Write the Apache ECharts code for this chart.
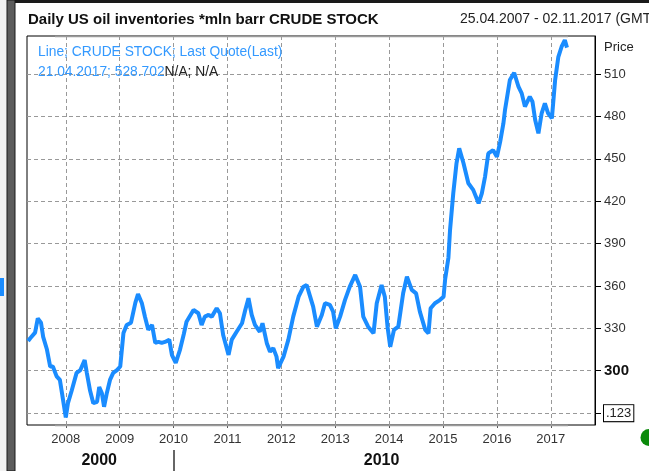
<!DOCTYPE html>
<html>
<head>
<meta charset="utf-8">
<title>Daily US oil inventories</title>
<script src="https://cdn.jsdelivr.net/npm/echarts@6.0.0/dist/echarts.min.js"></script>
<style>
  html, body { margin: 0; padding: 0; background: #fff; }
  #chart { width: 649px; height: 471px; }
</style>
</head>
<body>
<div id="chart"></div>
<script>
// weekly points, time as decimal year
const years = [
  2007.30, 2007.34, 2007.43, 2007.48, 2007.54, 2007.58, 2007.65, 2007.71, 2007.76, 2007.83,
  2007.89, 2007.93, 2008.00, 2008.04, 2008.11, 2008.20, 2008.27, 2008.35, 2008.39, 2008.45,
  2008.51, 2008.58, 2008.62, 2008.67, 2008.71, 2008.76, 2008.82, 2008.88, 2008.95, 2009.01,
  2009.07, 2009.13, 2009.21, 2009.29, 2009.34, 2009.41, 2009.47, 2009.53, 2009.60, 2009.66,
  2009.72, 2009.78, 2009.84, 2009.92, 2009.97, 2010.04, 2010.12, 2010.19, 2010.24, 2010.37,
  2010.46, 2010.52, 2010.58, 2010.65, 2010.71, 2010.80, 2010.86, 2010.92, 2011.02, 2011.08,
  2011.17, 2011.27, 2011.33, 2011.39, 2011.45, 2011.51, 2011.60, 2011.65, 2011.73, 2011.79,
  2011.85, 2011.91, 2011.94, 2012.04, 2012.13, 2012.22, 2012.32, 2012.41, 2012.47, 2012.53,
  2012.59, 2012.66, 2012.75, 2012.81, 2012.90, 2012.96, 2013.01, 2013.09, 2013.18, 2013.27,
  2013.37, 2013.46, 2013.52, 2013.61, 2013.71, 2013.77, 2013.86, 2013.92, 2013.97, 2014.02,
  2014.09, 2014.17, 2014.26, 2014.33, 2014.42, 2014.50, 2014.57, 2014.67, 2014.73, 2014.77,
  2014.85, 2014.94, 2015.01, 2015.04, 2015.10, 2015.13, 2015.19, 2015.25, 2015.30, 2015.38,
  2015.47, 2015.56, 2015.66, 2015.72, 2015.78, 2015.84, 2015.93, 2016.00, 2016.06, 2016.12,
  2016.15, 2016.24, 2016.32, 2016.40, 2016.46, 2016.52, 2016.61, 2016.66, 2016.71, 2016.77,
  2016.83, 2016.89, 2016.95, 2017.02, 2017.08, 2017.14, 2017.20, 2017.26, 2017.30
]
const crudeStock = [
  321, 323, 327, 337, 334, 324, 315, 303, 303, 296,
  293.5, 284, 267, 277, 286, 298.5, 300.5, 307.6, 298.5, 286,
  277, 278, 288.5, 284, 274.5, 284, 293.5, 298.5, 300.5, 303,
  326.7, 332.4, 334, 348, 354.3, 348, 338, 329, 332.4, 319.7,
  320.4, 319.7, 320.4, 322, 311, 305.5, 315, 326, 334.7, 343,
  340.7, 332.4, 338.3, 339.5, 338.3, 344.2, 340.7, 325.3, 311.2, 322,
  327.6, 333.6, 343, 351.3, 339.5, 332.4, 327.6, 333.6, 319.5, 313.5,
  316, 310, 301.8, 310, 322, 338.3, 352.4, 359.5, 360.7, 353,
  345.4, 331.2, 339.5, 347.8, 346.6, 341.8, 330, 338.3, 350, 359.5,
  367.8, 359.5, 338.3, 331.2, 326.5, 347.8, 360.7, 352.4, 331.2, 317,
  328.9, 331.2, 354.8, 366.6, 357.2, 354.8, 341.8, 328.9, 326.5, 344.2,
  347.8, 350, 352.4, 365, 380, 399.6, 425.6, 446.8, 457.4, 446.8,
  432.7, 428, 418.5, 425.6, 437.4, 453.8, 456.1, 451.4, 462, 475,
  484.5, 505.7, 510.9, 501, 496.3, 486.9, 494, 490.4, 477.4, 468,
  482.2, 489.3, 482.2, 478.7, 505.7, 522.2, 529.3, 534, 528.702
]
const yearTicks = [2008, 2009, 2010, 2011, 2012, 2013, 2014, 2015, 2016, 2017]
const priceTicks = [270, 300, 330, 360, 390, 420, 450, 480, 510]
const decadeLabels = ['2000', '2010']
const decadeAt = [2008.62, 2013.86]
const decadeSplit = [2010]
const lastDate = '21.04.2017'

const BLUE = '#1a8cff'
const FONT = 'Liberation Sans'

const chart = echarts.init(document.getElementById('chart'))
const lastValue = crudeStock[crudeStock.length - 1]

const option = {
  animation: false,
  textStyle: { fontFamily: FONT },
  title: [
    {
      text: 'Daily US oil inventories *mln barr CRUDE STOCK',
      left: 28,
      top: 12,
      padding: 0,
      textStyle: { fontSize: 15, fontWeight: 'bold', color: '#111', fontFamily: FONT }
    },
    {
      text: '25.04.2007 - 02.11.2017 (GMT)',
      left: 460,
      top: 12,
      padding: 0,
      textStyle: { fontSize: 14, fontWeight: 'normal', color: '#222', fontFamily: FONT }
    },
    {
      text: '{b|Line; CRUDE STOCK; Last Quote(Last)}\n{b|' + lastDate + '; ' + lastValue.toFixed(3) + '}{k|N/A; N/A}',
      left: 38,
      top: 42,
      padding: 0,
      textStyle: {
        fontFamily: FONT,
        fontWeight: 'normal',
        rich: {
          b: { fontSize: 13.8, fontWeight: 'normal', color: '#3399ff', lineHeight: 20, fontFamily: FONT },
          k: { fontSize: 13.8, fontWeight: 'normal', color: '#222', lineHeight: 20, fontFamily: FONT }
        }
      }
    },
    {
      text: 'Price',
      left: 604,
      top: 41,
      padding: 0,
      textStyle: { fontSize: 13, fontWeight: 'normal', color: '#222', fontFamily: FONT }
    }
  ],
  grid: {
    left: 27,
    right: 54,
    top: 36,
    bottom: 46,
    show: true,
    borderColor: '#000',
    borderWidth: 1
  },
  xAxis: [
    {
      type: 'value',
      min: 2007.28,
      max: 2017.82,
      axisLine: { show: false },
      axisTick: { customValues: yearTicks, length: 3, lineStyle: { color: '#555' } },
      axisLabel: {
        customValues: yearTicks,
        formatter: v => String(Math.round(v)),
        fontSize: 13,
        color: '#333',
        margin: 8
      },
      splitLine: { show: true, lineStyle: { color: '#999', type: [4, 3] } }
    },
    {
      type: 'value',
      min: 2007.28,
      max: 2017.82,
      position: 'bottom',
      offset: 25,
      axisLine: { show: false },
      axisTick: { customValues: decadeSplit, length: 22, lineStyle: { color: '#333', width: 1.5 } },
      axisLabel: {
        customValues: decadeAt,
        formatter: v => decadeLabels[decadeAt.indexOf(v)],
        fontSize: 16,
        fontWeight: 'bold',
        color: '#111',
        margin: 3
      },
      splitLine: { show: false }
    }
  ],
  yAxis: {
    type: 'value',
    position: 'right',
    min: 261.6,
    max: 536.9,
    axisLine: { show: true, lineStyle: { color: '#000' } },
    axisTick: { show: true, customValues: priceTicks, length: 6, lineStyle: { color: '#000' } },
    axisLabel: {
      customValues: priceTicks,
      margin: 9,
      fontSize: 13,
      color: '#333',
      formatter: v => {
        if (v === 300) return '{big|300}'
        if (v === 270) return '{box|.123}'
        return String(v)
      },
      rich: {
        big: { fontSize: 15, fontWeight: 'bold', color: '#111', fontFamily: FONT },
        box: {
          fontSize: 13, color: '#222', borderColor: '#000', borderWidth: 1,
          padding: [2, 2, 1, 2], backgroundColor: '#fff', fontFamily: FONT
        }
      }
    },
    splitLine: { show: true, lineStyle: { color: '#999', type: [4, 3] } }
  },
  graphic: [
    { type: 'rect', shape: { x: 0, y: 0, width: 7, height: 471 }, style: { fill: '#f2f2f2' } },
    { type: 'rect', shape: { x: 7, y: 0, width: 8, height: 471 }, style: { fill: '#5c5c5c', stroke: '#1a1a1a', lineWidth: 1 } },
    { type: 'rect', shape: { x: 15, y: 0, width: 634, height: 3 }, style: { fill: '#1a1a1a' } },
    { type: 'rect', shape: { x: 0, y: 278, width: 4, height: 18 }, style: { fill: '#1a8cff' } },
    { type: 'line', shape: { x1: 55, y1: 36.5, x2: 568, y2: 36.5 }, style: { stroke: '#9a9a9a', lineWidth: 1.5 }, z: 100 },
    { type: 'line', shape: { x1: 55, y1: 425.5, x2: 568, y2: 425.5 }, style: { stroke: '#9a9a9a', lineWidth: 1.5 }, z: 100 },
    { type: 'circle', shape: { cx: 649, cy: 437.5, r: 8.5 }, style: { fill: '#0b8a0b' } }
  ],
  series: [
    {
      name: 'CRUDE STOCK',
      type: 'line',
      showSymbol: false,
      lineStyle: { color: BLUE, width: 4 },
      itemStyle: { color: BLUE },
      data: years.map((y, i) => [y, crudeStock[i]])
    }
  ]
}

chart.setOption(option)
</script>
</body>
</html>
